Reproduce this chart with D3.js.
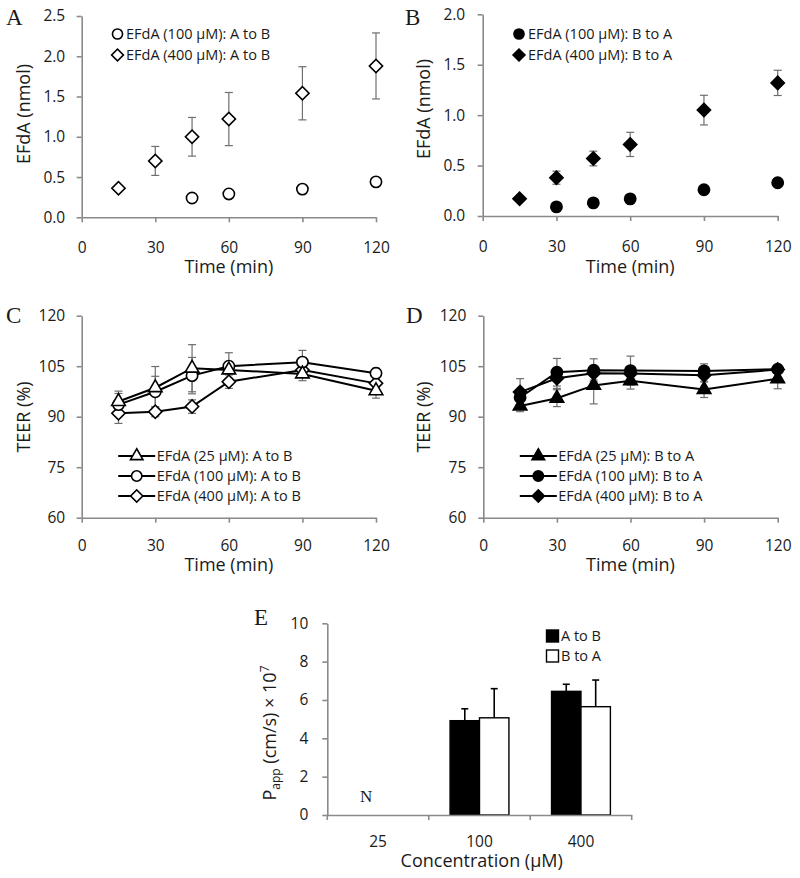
<!DOCTYPE html>
<html><head><meta charset="utf-8">
<script src="https://cdn.jsdelivr.net/npm/d3@7"></script>
<style>
body{margin:0;background:#fff;}
svg{display:block;}
text{font-family:"Open Sans",sans-serif;fill:#1a1a1a;}
.serif{font-family:"Liberation Serif","Times New Roman",serif;}
</style></head>
<body>
<svg id="chart" width="800" height="878"></svg>
<script>
// ---------- DATA ----------
const timeTicks = [0, 30, 60, 90, 120];
const times = [15, 30, 45, 60, 90, 120];

// Panel A (EFdA nmol, A to B)
const aTimes100 = [45, 60, 90, 120];
const aVal100 = [0.24, 0.29, 0.35, 0.44];
const aVal400 = [0.36, 0.70, 1.00, 1.22, 1.54, 1.88];
const aErr400 = [0, 0.18, 0.24, 0.33, 0.33, 0.41];
const aTicks = [0, 0.5, 1.0, 1.5, 2.0, 2.5];

// Panel B (EFdA nmol, B to A)
const bTimes100 = [30, 45, 60, 90, 120];
const bVal100 = [0.09, 0.13, 0.17, 0.26, 0.33];
const bVal400 = [0.17, 0.38, 0.57, 0.71, 1.05, 1.32];
const bErr400 = [0, 0.065, 0.073, 0.12, 0.147, 0.125];
const bTicks = [0, 0.5, 1.0, 1.5, 2.0];

// Panel C (TEER %, A to B)
const c25 = [94.5, 98.6, 104.4, 103.9, 102.7, 97.7];
const c25Err = [3.1, 6.3, 7.0, 2.5, 2.0, 2.2];
const c100 = [93.6, 97.4, 102.2, 105.0, 106.2, 102.9];
const c100Err = [3.3, 4.6, 5.4, 4.0, 3.5, 1.5];
const c400 = [91.0, 91.5, 93.0, 100.4, 103.9, 99.9];
const c400Err = [3.0, 1.5, 2.0, 2.0, 2.0, 2.0];

// Panel D (TEER %, B to A)
const d25 = [93.2, 95.5, 99.3, 100.7, 98.1, 101.3];
const d25Err = [1.7, 2.5, 5.5, 2.5, 2.4, 3.0];
const d100 = [95.7, 103.2, 103.8, 103.7, 103.6, 104.1];
const d100Err = [2.0, 4.1, 3.4, 4.3, 2.1, 1.0];
const d400 = [97.3, 101.4, 102.9, 102.8, 102.3, 104.0];
const d400Err = [4.0, 3.0, 2.0, 2.0, 2.0, 1.0];
const teerTicks = [60, 75, 90, 105, 120];

// Panel E (Papp)
const concentrations = ["25", "100", "400"];
const papAtoB = [null, 4.92, 6.45];
const papAtoBErr = [null, 0.62, 0.37];
const papBtoA = [null, 5.07, 5.65];
const papBtoAErr = [null, 1.52, 1.39];
const papTicks = [0, 2, 4, 6, 8, 10];

// ---------- DRAWING ----------
const svg = d3.select("#chart");
const AXIS = "#8a8a8a", ERR = "#6e6e6e";
const TICKFONT = "15.5px", TITLEFONT = "18px", LEGFONT = "14.5px";

function marker(type, size) {
  const t = {circle: d3.symbolCircle, square: d3.symbolSquare, diamond: d3.symbolSquare, triangle: d3.symbolTriangle}[type];
  return d3.symbol().type(t).size(size)();
}
function drawMarker(g, type, x, y, filled, size) {
  g.append("path").attr("d", marker(type, size))
    .attr("transform", `translate(${x},${y})` + (type === "diamond" ? " rotate(45)" : ""))
    .attr("fill", filled ? "#000" : "#fff").attr("stroke", "#000").attr("stroke-width", 1.6);
}
const SIZES = {circle: 100, diamond: 88, triangle: 80};

function axes(p) {
  const g = svg.append("g");
  const xa = g.append("g").attr("transform", `translate(0,${p.y.range()[0]})`)
    .call(d3.axisBottom(p.x).tickValues(timeTicks).tickSize(5).tickSizeOuter(0).tickPadding(p.xPad));
  const ya = g.append("g").attr("transform", `translate(${p.x.range()[0]},0)`)
    .call(d3.axisLeft(p.y).tickValues(p.yTicks).tickSize(5).tickSizeOuter(0).tickPadding(p.yPad).tickFormat(p.fmt));
  [xa, ya].forEach(a => {
    a.selectAll("path,line").attr("stroke", AXIS).attr("stroke-width", 1.6);
    a.selectAll("text").style("font-size", TICKFONT).attr("fill", "#1a1a1a");
  });
  g.append("text").attr("x", (p.x.range()[0] + p.x.range()[1]) / 2).attr("y", p.xTitleY)
    .attr("text-anchor", "middle").style("font-size", TITLEFONT).text("Time (min)");
  g.append("text").attr("transform", `translate(${p.yTitleX},${p.yTitleCY}) rotate(-90)`)
    .attr("text-anchor", "middle").style("font-size", TITLEFONT).text(p.yTitle);
  g.append("text").attr("class", "serif").attr("x", p.letterX).attr("y", p.letterY)
    .style("font-size", "23px").text(p.letter);
  return g;
}
function errBars(g, x, y, xs, vs, es, color) {
  xs.forEach((t, i) => {
    const e = es[i]; if (!e) return;
    const X = x(t), y1 = y(vs[i] + e), y0 = y(vs[i] - e);
    g.append("line").attr("x1", X).attr("x2", X).attr("y1", y1).attr("y2", y0).attr("stroke", color).attr("stroke-width", 1.2);
    [y1, y0].forEach(yy => g.append("line").attr("x1", X - 4).attr("x2", X + 4).attr("y1", yy).attr("y2", yy).attr("stroke", color).attr("stroke-width", 1.2));
  });
}

// Panel A
(function () {
  const x = d3.scaleLinear().domain([0, 120]).range([81.7, 376]);
  const y = d3.scaleLinear().domain([0, 2.5]).range([217.3, 16]);
  const g = axes({x, y, yTicks: aTicks, fmt: d3.format(".1f"), xPad: 20, yPad: 11.5, xTitleY: 272.5,
    yTitleX: 30, yTitleCY: 114, yTitle: "EFdA (nmol)", letter: "A", letterX: 6, letterY: 25});
  errBars(g, x, y, times, aVal400, aErr400, ERR);
  aTimes100.forEach((t, i) => drawMarker(g, "circle", x(t), y(aVal100[i]), false, SIZES.circle));
  times.forEach((t, i) => drawMarker(g, "diamond", x(t), y(aVal400[i]), false, SIZES.diamond));
  const lg = [["circle", "EFdA (100 µM): A to B"], ["diamond", "EFdA (400 µM): A to B"]];
  lg.forEach((d, i) => {
    drawMarker(g, d[0], 117.5, 34 + i * 21, false, d[0] === "circle" ? 80 : 70);
    g.append("text").attr("x", 126).attr("y", 34 + i * 21 + 5).style("font-size", LEGFONT).text(d[1]);
  });
})();

// Panel B
(function () {
  const x = d3.scaleLinear().domain([0, 120]).range([482.7, 777.7]);
  const y = d3.scaleLinear().domain([0, 2.0]).range([216, 14.3]);
  const g = axes({x, y, yTicks: bTicks, fmt: d3.format(".1f"), xPad: 20, yPad: 12.5, xTitleY: 272.5,
    yTitleX: 430, yTitleCY: 109, yTitle: "EFdA (nmol)", letter: "B", letterX: 405, letterY: 25});
  errBars(g, x, y, times, bVal400, bErr400, ERR);
  bTimes100.forEach((t, i) => drawMarker(g, "circle", x(t), y(bVal100[i]), true, SIZES.circle));
  times.forEach((t, i) => drawMarker(g, "diamond", x(t), y(bVal400[i]), true, SIZES.diamond));
  const lg = [["circle", "EFdA (100 µM): B to A"], ["diamond", "EFdA (400 µM): B to A"]];
  lg.forEach((d, i) => {
    drawMarker(g, d[0], 519, 34 + i * 21, true, d[0] === "circle" ? 80 : 70);
    g.append("text").attr("x", 528).attr("y", 34 + i * 21 + 5).style("font-size", LEGFONT).text(d[1]);
  });
})();

// Panels C & D
function teerPanel(cfg) {
  const x = d3.scaleLinear().domain([0, 120]).range(cfg.xr);
  const y = d3.scaleLinear().domain([60, 120]).range([517.7, 315.7]);
  const g = axes({x, y, yTicks: teerTicks, fmt: d3.format("d"), xPad: 17, yPad: cfg.yPad, xTitleY: 570.5,
    yTitleX: cfg.yTitleX, yTitleCY: 417, yTitle: "TEER (%)", letter: cfg.letter, letterX: cfg.letterX, letterY: 323});
  const line = d3.line().x((d, i) => x(times[i])).y(d => y(d));
  cfg.series.forEach(s => errBars(g, x, y, times, s.v, s.e, ERR));
  cfg.series.slice().reverse().forEach(s => {
    g.append("path").attr("d", line(s.v)).attr("fill", "none").attr("stroke", "#000").attr("stroke-width", 2);
    s.v.forEach((v, i) => drawMarker(g, s.type, x(times[i]), y(v), cfg.filled, SIZES[s.type]));
  });
  cfg.series.forEach((s, i) => {
    const ly = 456 + i * 20;
    const lx0 = cfg.xr[0] + 36.5;
    g.append("line").attr("x1", lx0).attr("x2", lx0 + 37).attr("y1", ly).attr("y2", ly).attr("stroke", "#000").attr("stroke-width", 2);
    drawMarker(g, s.type, lx0 + 18.5, ly, cfg.filled, SIZES[s.type] * 0.85);
    g.append("text").attr("x", lx0 + 38.5).attr("y", ly + 5).style("font-size", LEGFONT).text(s.label);
  });
}
teerPanel({xr: [81.7, 376], yPad: 11.5, yTitleX: 30, letter: "C", letterX: 6, filled: false, series: [
  {type: "triangle", v: c25, e: c25Err, label: "EFdA (25 µM): A to B"},
  {type: "circle", v: c100, e: c100Err, label: "EFdA (100 µM): A to B"},
  {type: "diamond", v: c400, e: c400Err, label: "EFdA (400 µM): A to B"}]});
teerPanel({xr: [483.3, 777.7], yPad: 12, yTitleX: 430, letter: "D", letterX: 406, filled: true, series: [
  {type: "triangle", v: d25, e: d25Err, label: "EFdA (25 µM): B to A"},
  {type: "circle", v: d100, e: d100Err, label: "EFdA (100 µM): B to A"},
  {type: "diamond", v: d400, e: d400Err, label: "EFdA (400 µM): B to A"}]});

// Panel E
(function () {
  const x = d3.scaleBand().domain(concentrations).range([327.3, 631.7]).padding(0);
  const y = d3.scaleLinear().domain([0, 10]).range([815, 623.3]);
  const series = [{name: "A to B", v: papAtoB, e: papAtoBErr, fill: "#000"},
                  {name: "B to A", v: papBtoA, e: papBtoAErr, fill: "#fff"}];
  const bw = x.bandwidth();
  const x1 = d3.scaleBand().domain(series.map(s => s.name)).range([bw * 0.21, bw * 0.79]);
  const g = svg.append("g");
  series.forEach(s => {
    concentrations.forEach((c, i) => {
      if (s.v[i] == null) return;
      const X = x(c) + x1(s.name), W = x1.bandwidth();
      const cx = X + W / 2, top = y(s.v[i]), et = y(s.v[i] + s.e[i]);
      g.append("line").attr("x1", cx).attr("x2", cx).attr("y1", top).attr("y2", et).attr("stroke", "#000").attr("stroke-width", 1.6);
      g.append("line").attr("x1", cx - 3.5).attr("x2", cx + 3.5).attr("y1", et).attr("y2", et).attr("stroke", "#000").attr("stroke-width", 1.6);
      g.append("rect").attr("x", X).attr("y", top).attr("width", W).attr("height", y(0) - top)
        .attr("fill", s.fill).attr("stroke", "#000").attr("stroke-width", 1.4);
    });
  });
  const xa = g.append("g").attr("transform", `translate(0,${y(0)})`)
    .call(d3.axisBottom(x).tickSize(0).tickPadding(21));
  xa.selectAll(".tick line").remove();
  x.domain().concat(["end"]).forEach(c => {
    const bx = c === "end" ? x.range()[1] : x(c);
    xa.append("line").attr("x1", bx).attr("x2", bx).attr("y1", 0).attr("y2", 5);
  });
  const ya = g.append("g").attr("transform", `translate(${x.range()[0]},0)`)
    .call(d3.axisLeft(y).tickValues(papTicks).tickSize(5).tickSizeOuter(0).tickPadding(14));
  [xa, ya].forEach(a => {
    a.selectAll("path,line").attr("stroke", AXIS).attr("stroke-width", 1.6);
    a.selectAll("text").style("font-size", TICKFONT).attr("fill", "#1a1a1a");
  });
  g.append("text").attr("x", 481.7).attr("y", 867).attr("text-anchor", "middle").style("font-size", TITLEFONT).text("Concentration (µM)");
  const yt = g.append("text").attr("transform", "translate(276,733) rotate(-90)").attr("text-anchor", "middle").style("font-size", TITLEFONT);
  yt.append("tspan").text("P");
  yt.append("tspan").attr("dy", 4).style("font-size", "12px").text("app");
  yt.append("tspan").attr("dy", -4).text(" (cm/s) × 10");
  yt.append("tspan").attr("dy", -7).style("font-size", "12px").text("7");
  g.append("text").attr("class", "serif").attr("x", 254).attr("y", 625).style("font-size", "23px").text("E");
  g.append("text").attr("class", "serif").attr("x", x("25") + bw / 2 - 12).attr("y", 801.5).attr("text-anchor", "middle").style("font-size", "17px").text("N");
  series.forEach((s, i) => {
    const ly = 636 + i * 20;
    g.append("rect").attr("x", 546.5).attr("y", ly - 6).attr("width", 12).attr("height", 12)
      .attr("fill", s.fill).attr("stroke", "#000").attr("stroke-width", 1.4);
    g.append("text").attr("x", 561).attr("y", ly + 5).style("font-size", LEGFONT).text(s.name);
  });
})();
</script>
</body></html>
